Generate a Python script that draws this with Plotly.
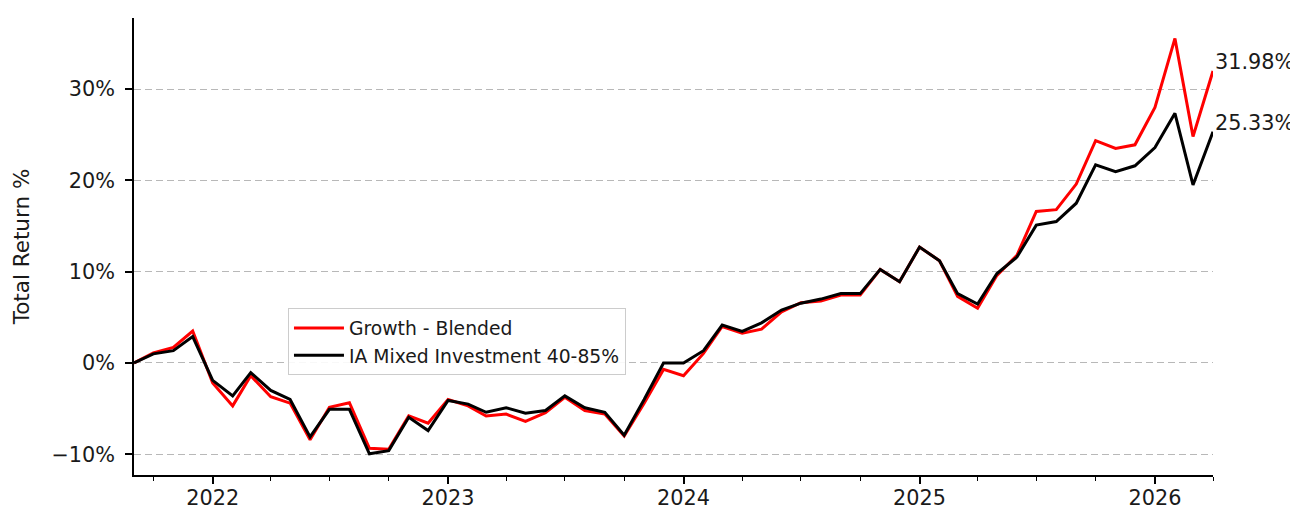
import pandas as pd
import plotly.graph_objects as go

# Monthly observation dates (Sep 2021 .. Apr 2026)
dates = pd.date_range("2021-09-01", periods=56, freq="MS")

growth_blended = [
    0.0, 1.1, 1.7, 3.5, -2.2, -4.7, -1.4, -3.7, -4.4, -8.4,
    -4.85, -4.35, -9.35, -9.45, -5.8, -6.6, -4.0, -4.7, -5.8, -5.6,
    -6.4, -5.45, -3.75, -5.2, -5.6, -8.0, -4.4, -0.7, -1.4, 1.05,
    4.0, 3.25, 3.7, 5.6, 6.6, 6.8, 7.45, 7.45, 10.25, 8.9,
    12.7, 11.2, 7.3, 6.0, 9.6, 11.8, 16.6, 16.8, 19.6, 24.35,
    23.5, 23.9, 28.0, 35.55, 24.8, 31.98,
]

ia_mixed = [
    0.0, 1.0, 1.35, 2.9, -1.9, -3.6, -1.06, -3.0, -4.0, -8.1,
    -5.07, -5.07, -9.95, -9.6, -5.95, -7.4, -4.1, -4.5, -5.4, -4.9,
    -5.5, -5.2, -3.6, -4.9, -5.4, -7.9, -4.0, 0.0, 0.0, 1.35,
    4.15, 3.45, 4.4, 5.8, 6.55, 7.0, 7.6, 7.6, 10.25, 8.9,
    12.7, 11.2, 7.6, 6.45, 9.8, 11.6, 15.1, 15.5, 17.5, 21.7,
    20.95, 21.6, 23.6, 27.35, 19.5, 25.33,
]

series_names = ["Growth - Blended", "IA Mixed Investment 40-85%"]
series_colors = ["#ff0000", "#000000"]

y_tick_vals = [-10, 0, 10, 20, 30]
y_tick_text = ["\u221210%", "0%", "10%", "20%", "30%"]

FONT = "DejaVu Sans"
TXT = "#1a1a1a"
FS = 20.8

fig = go.Figure()
for name, vals, col in zip(series_names, [growth_blended, ia_mixed], series_colors):
    fig.add_trace(go.Scatter(
        x=dates, y=vals, mode="lines", name=name,
        line=dict(color=col, width=3),
    ))
    fig.add_annotation(
        x=dates[-1], y=vals[-1], text=f"{vals[-1]:.2f}%",
        showarrow=False, xanchor="left", yanchor="bottom",
        xshift=0, yshift=-5,
        font=dict(family=FONT, size=FS, color=TXT),
    )

# The page body adds an 8px offset, so the figure is 8px smaller than the window
fig.update_layout(
    width=1290, height=504,
    margin=dict(l=126, r=85, t=10, b=37, autoexpand=False),
    plot_bgcolor="white", paper_bgcolor="white",
    font=dict(family=FONT, size=FS, color=TXT),
    showlegend=True,
    legend=dict(
        x=0.1427, y=0.365, xanchor="left", yanchor="top",
        bgcolor="rgba(255,255,255,0.9)", bordercolor="#cccccc", borderwidth=1,
        font=dict(family=FONT, size=18.75, color=TXT),
        tracegroupgap=0, itemwidth=50,
    ),
)

fig.update_xaxes(
    range=[dates[0], dates[-1]],
    automargin=False,
    showgrid=False, zeroline=False,
    showline=True, linecolor="black", linewidth=1.5,
    ticks="outside", ticklen=7, tickwidth=1.5, tickcolor="black",
    dtick="M12", tick0="2022-01-01", tickformat="%Y",
    ticklabelstandoff=-4,
    minor=dict(dtick="M3", tick0="2022-01-01", ticks="outside", ticklen=4,
               tickwidth=1.2, tickcolor="black", showgrid=False),
    tickfont=dict(family=FONT, size=FS, color=TXT),
)

fig.update_yaxes(
    range=[-12.27, 37.79],
    automargin=False,
    tickvals=y_tick_vals, ticktext=y_tick_text,
    showgrid=True, gridcolor="#b8b8b8", griddash="7px,4px", gridwidth=1.2,
    zeroline=False,
    showline=True, linecolor="black", linewidth=1.5,
    ticks="outside", ticklen=7, tickwidth=1.5, tickcolor="black",
    ticklabelstandoff=6,
    tickfont=dict(family=FONT, size=FS, color=TXT),
    title=dict(text="Total Return %", font=dict(family=FONT, size=21.5, color=TXT), standoff=16),
)

fig.write_html("out.html")
